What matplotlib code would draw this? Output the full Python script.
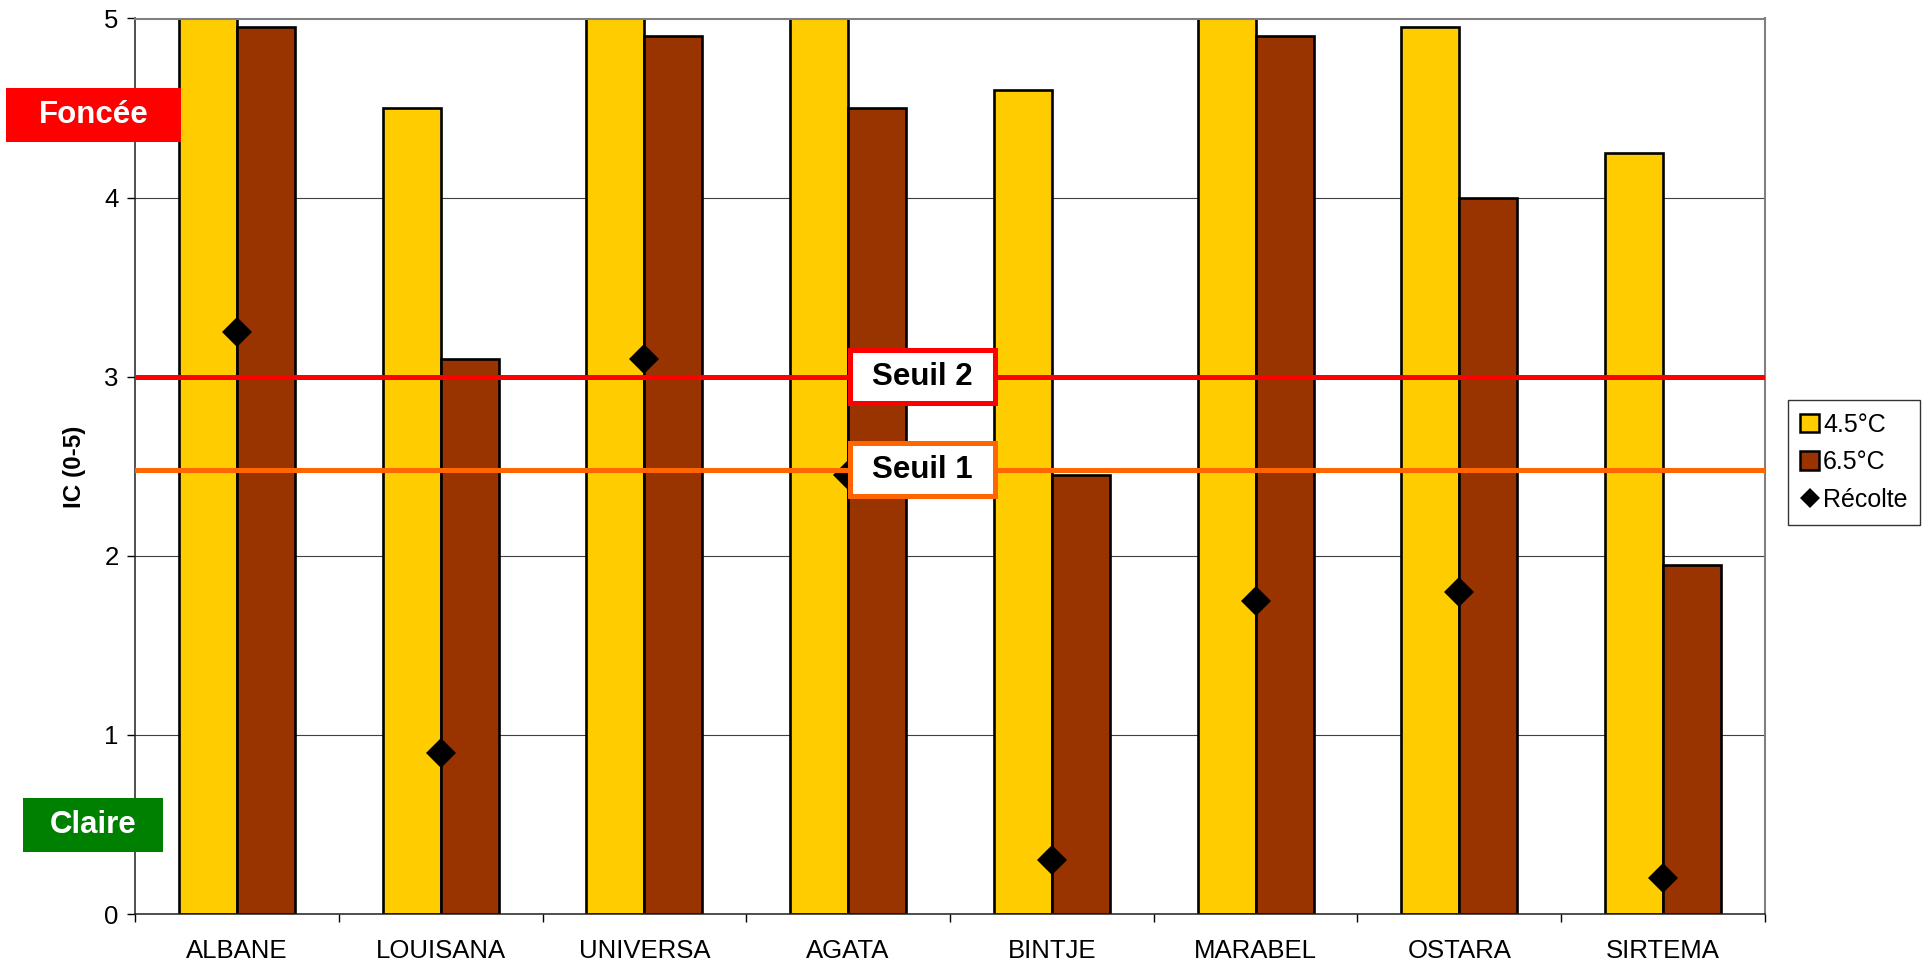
import numpy as np
import matplotlib
matplotlib.use("Agg")
import matplotlib.pyplot as plt
from matplotlib.patches import Rectangle
from matplotlib.lines import Line2D

plt.rcParams['font.family'] = ['Liberation Sans', 'DejaVu Sans']

# Varieties and colour index (IC, 0-5) per storage temperature
varieties = ["ALBANE", "LOUISANA", "UNIVERSA", "AGATA", "BINTJE", "MARABEL", "OSTARA", "SIRTEMA"]
ic_45 = [5.0, 4.5, 5.0, 5.0, 4.6, 5.0, 4.95, 4.25]
ic_65 = [4.95, 3.1, 4.9, 4.5, 2.45, 4.9, 4.0, 1.95]
ic_recolte = [3.25, 0.9, 3.1, 2.45, 0.3, 1.75, 1.8, 0.2]
series_labels = ["4.5°C", "6.5°C", "Récolte"]

# Thresholds
seuil_2 = 3.0
seuil_1 = 2.48

W, H = 1933, 969
fig = plt.figure(figsize=(W / 100, H / 100), dpi=100)
L, R, T, B = 135, 1765, 18.5, 914
ax = fig.add_axes([L / W, 1 - B / H, (R - L) / W, (B - T) / H])

x = np.arange(len(varieties))
bw = 0.285
b1 = ax.bar(x - bw / 2, ic_45, bw, color="#FFCC00", edgecolor="black", linewidth=1.9, zorder=2)
b2 = ax.bar(x + bw / 2, ic_65, bw, color="#993300", edgecolor="black", linewidth=1.9, zorder=2)
ax.plot(x, ic_recolte, linestyle="none", marker="D", ms=15, color="black",
        markeredgewidth=0, zorder=3)

ax.axhline(seuil_2, color="#FF0000", lw=3.6, zorder=4)
ax.axhline(seuil_1, color="#FF6600", lw=3.6, zorder=4)

ax.set_xlim(-0.5, len(varieties) - 0.5)
ax.set_ylim(0, 5)

# Threshold labels
box_x0, box_x1 = 3.01, 3.72
box_h = 0.295
for val, col, txt in [(seuil_2, "#FF0000", "Seuil 2"), (seuil_1, "#FF6600", "Seuil 1")]:
    ax.add_patch(Rectangle((box_x0, val - box_h / 2), box_x1 - box_x0, box_h,
                           facecolor="white", edgecolor=col, linewidth=3.6, zorder=6))
    ax.text((box_x0 + box_x1) / 2, val, txt, ha="center", va="center",
            fontsize=22.5, fontweight="bold", color="black", zorder=7)

# Grid and spines
ax.yaxis.grid(True, color="#404040", linewidth=0.8)
ax.set_axisbelow(True)
ax.spines["top"].set_color("#808080")
ax.spines["right"].set_color("#808080")
ax.spines["top"].set_linewidth(1.5)
ax.spines["right"].set_linewidth(1.5)
ax.spines["left"].set_linewidth(1.1)
ax.spines["bottom"].set_linewidth(1.1)
ax.spines["left"].set_color("#202020")
ax.spines["bottom"].set_color("#202020")

# Ticks
ax.set_yticks(range(0, 6))
ax.tick_params(axis="y", length=5.8, width=1, pad=6, labelsize=18.5, colors="black")
ax.set_xticks(np.arange(-0.5, len(varieties), 1.0))
ax.set_xticklabels([])
ax.tick_params(axis="x", which="major", length=5.8, width=1)
ax.set_xticks(x, minor=True)
ax.set_xticklabels(varieties, minor=True)
ax.tick_params(axis="x", which="minor", length=0, pad=18, labelsize=18.5)

fig.text(75 / W, 1 - 467 / H, "IC (0-5)", rotation=90, ha="center", va="center",
         fontsize=17.5, fontweight="bold")

# Side labels for dark / light colour scale
for (x0, y0, x1, y1, fc, txt) in [(6, 88, 181, 142, "#FF0000", "Foncée"),
                                  (23, 798, 163, 852, "#008000", "Claire")]:
    fig.add_artist(Rectangle((x0 / W, 1 - y1 / H), (x1 - x0) / W, (y1 - y0) / H,
                             transform=fig.transFigure, facecolor=fc, edgecolor="none"))
    fig.text((x0 + x1) / 2 / W, 1 - (y0 + y1) / 2 / H, txt, ha="center", va="center",
             fontsize=22.5, fontweight="bold", color="white")

# Legend
diamond = Line2D([], [], linestyle="none", marker="D", ms=10, color="black", markeredgewidth=0)
leg = fig.legend([b1, b2, diamond], series_labels, loc="upper left",
                 bbox_to_anchor=(1788 / W, 1 - 400 / H), bbox_transform=fig.transFigure,
                 fontsize=18, frameon=True, fancybox=False, edgecolor="black",
                 handlelength=0.75, handleheight=0.75, handletextpad=0.15,
                 labelspacing=0.55, borderpad=0.5, borderaxespad=0)
leg.get_frame().set_linewidth(1.0)
for p in leg.get_patches():
    p.set_linewidth(1.8)

fig.savefig("out.png", dpi=100)
